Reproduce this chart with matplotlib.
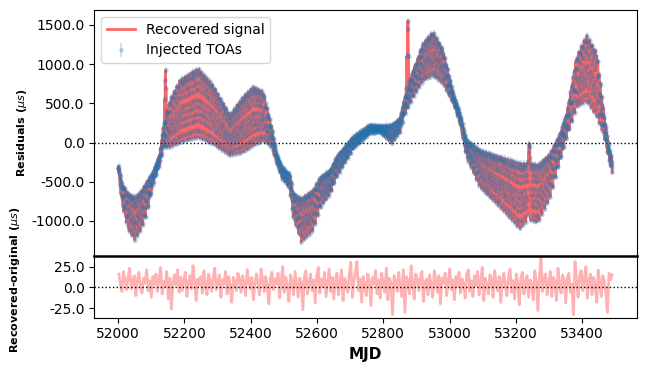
import numpy as np
import matplotlib.pyplot as plt
from matplotlib.ticker import FormatStrFormatter

# Envelope of the injected TOA band (MJD, upper, lower in us)
knot_mjd = [52000, 52012, 52030, 52050, 52070, 52086, 52106, 52126, 52136, 52156,
            52186, 52241, 52286, 52337, 52377, 52407, 52438, 52463, 52478, 52493,
            52508, 52518, 52528, 52553, 52588, 52610, 52640, 52659, 52709, 52759,
            52789, 52825, 52850, 52865, 52890, 52920, 52950, 52980, 53011, 53031,
            53051, 53091, 53152, 53212, 53234, 53246, 53267, 53303, 53333, 53353,
            53383, 53413, 53444, 53464, 53479, 53490]
upper = [-260, -520, -650, -700, -620, -501, -374, -139, 200, 541,
         796, 945, 732, 350, 583, 711, 647, 200, -139, -300,
         -374, -394, -650, -714, -607, -440, -350, -182, 73, 222,
         209, 222, 307, 583, 924, 1265, 1413, 1179, 627, 371,
         31, -97, -182, -267, -267, -267, -288, -139, 116, 371,
         1094, 1371, 1137, 413, -12, -225]
lower = [-330, -800, -1100, -1245, -1100, -905, -522, -267, -55, -55,
         9, 73, -12, -161, -119, -33, 31, -55, -267, -450,
         -522, -607, -948, -1267, -1118, -820, -650, -437, -75, 116,
         137, -4, 137, 371, 583, 796, 860, 754, 499, 244,
         -182, -565, -820, -1096, -990, -990, -1012, -693, -225, 73,
         456, 541, 328, 116, -182, -394]

# position of each TOA inside the band (repeating sampling pattern)
phase = [0.0, 0.45, 0.9, 0.25, 0.7, 1.0, 0.35, 0.8, 0.1, 0.55, 0.95]

# short glitches seen in the data
spike_mjd = [52140, 52141, 52142, 52143, 52144, 52145,
             52869, 52871, 52873, 52874, 52876, 52878,
             53237, 53238, 53239, 53240, 53241, 53242]
spike_val = [250, 550, 800, 924, 700, 400,
             700, 1100, 1450, 1550, 1100, 800,
             -250, -120, -40, -12, -60, -200]
gap = (53236, 53243)

# recovered - original residuals
diff = [16, 4, -5, 19, 9, -3, 12, 23, -2, 7, 14, -10, 9, 18, 1, -7, 11, 5, 21, -4,
        8, -12, 13, 4, 16, -5, 10, 24, -8, 7, 2, 19, -14, 11, -26, 6, 15, 3, 21, -6,
        12, -4, 9, 18, -11, 5, 14, -2, 26, 7, -16, 10, 3, 13, -7, 20, 1, -9, 16, 8,
        -5, 11, 23, -3, 6, 15, -12, 9, 4, 19, -8, 13, 2, -18, 12, 7, -4, 17, 10, -6,
        14, 5, -10, 21, 8, -2, 12, -15, 6, 16, 3, -9, 22, 9, -5, 13, 1, -20, 11, 18,
        -3, 10, 4, 17, -13, 8, 25, -6, 12, 2, -17, 15, 7, -9, 19, 3, -12, 11, 6, -27,
        13, 20, -8, 5, 16, -4, 9, -19, 14, 24, -7, 10, 1, 18, -11, 6, 22, -5, 12, -14,
        8, 17, -9, 3, 21, -16, 11, 5, -6, 15, 30, -12, 8, 19, 31, -4, 10, -18, 13, 2,
        -10, 16, 7, -22, 12, 4, 20, -8, 9, -13, 17, 3, -6, 23, -15, 11, 6, -33, 14, 8,
        -5, 18, 2, -11, 21, -30, 13, 7, -8, 26, 4, -14, 16, 9, -4, 12, 19, -17, 6, 10,
        -9, 15, 3, -12, 20, 8, -6, 14, -20, 11, 5, 17, -10, 7, 22, -3, 9, -15, 13, 1,
        18, -7, 10, 4, -13, 16, 21, -5, 8, -11, 14, 2, 19, -9, 6, 24, -16, 11, 3, -8,
        15, 9, -12, 20, 5, -4, 13, -18, 7, 17, 1, -10, 12, 22, -6, 8, -14, 16, 4, -21,
        11, 18, -8, 6, 14, -12, 9, 3, -15, 20, 7, -28, 13, 35, -5, 10, 16, -9, 4, 19,
        -11, 12, 6, -16, 23, 2, -7, 15, 9, -19, 11, 17, -6, 4, -33, 31, 8, -12, 14, 20,
        -4, 10, 25, -13, 7, 16, -9, 12, 3, -18, 21, 6, -11, 14, 8, -7, -30, 17, 9, 15]
diff_mjd = np.linspace(52002, 53490, len(diff))

# build TOA series
t = np.arange(52000, 53491, 0.75)
t = t[(t < gap[0]) | (t > gap[1])]
up = np.interp(t, knot_mjd, upper)
lo = np.interp(t, knot_mjd, lower)
fr = np.array([phase[i % len(phase)] for i in range(len(t))])
res = lo + fr * (up - lo)
t = np.concatenate([t, spike_mjd])
res = np.concatenate([res, spike_val])
order = np.argsort(t)
t, res = t[order], res[order]

W, H = 646, 372
fig = plt.figure(figsize=(W / 100, H / 100), dpi=100)
ax1 = fig.add_axes([94.3 / W, 1 - 255.7 / H, 543 / W, 245.7 / H])
ax2 = fig.add_axes([94.3 / W, 1 - 317.7 / H, 543 / W, 62 / H], sharex=ax1)

ax1.plot(t, res, color='red', alpha=0.6, lw=2, label='Recovered signal', zorder=2)
ax1.errorbar(t, res, yerr=40, fmt='.', color='C0', alpha=0.2, ms=5,
             label='Injected TOAs', zorder=3)
ax1.axhline(0, color='k', ls=':', lw=1)
ax1.set_ylim(-1443, 1691)
ax1.set_xlim(51928, 53566)
ax1.yaxis.set_major_formatter(FormatStrFormatter('%.1f'))
ax1.tick_params(bottom=False, labelbottom=False)
ax1.legend(loc='upper left')

ax2.plot(diff_mjd, diff, color='red', alpha=0.3, lw=2)
ax2.axhline(0, color='k', ls=':', lw=1)
ax2.set_ylim(-36.5, 38)
ax2.set_yticks([-25, 0, 25])
ax2.yaxis.set_major_formatter(FormatStrFormatter('%.1f'))
ax2.spines['top'].set_linewidth(1.8)
ax2.set_xlabel('MJD', fontsize=11, fontweight='bold')

fig.text(22 / W, 1 - 133 / H, r'Residuals ($\mu s$)', rotation=90, fontsize=8,
         fontweight='bold', ha='center', va='center')
fig.text(15 / W, 1 - 280 / H, r'Recovered-original ($\mu s$)', rotation=90, fontsize=8,
         fontweight='bold', ha='center', va='center')

fig.savefig('out.png', dpi=100)
